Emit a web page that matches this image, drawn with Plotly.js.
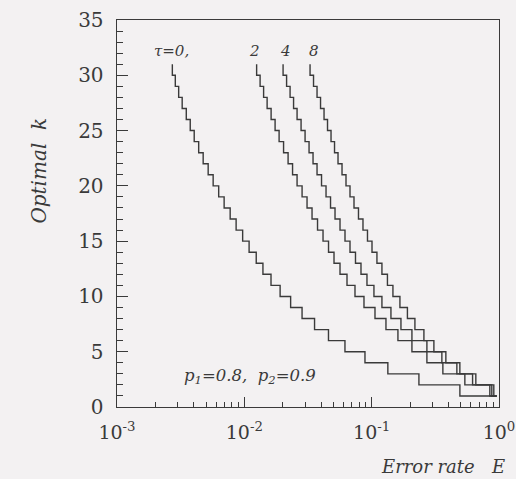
<!DOCTYPE html>
<html>
<head>
<meta charset="utf-8">
<script src="https://cdn.plot.ly/plotly-3.0.1.min.js"></script>
<style>
  html, body { margin: 0; padding: 0; background: #f3f1f2; }
  #chart { width: 516px; height: 479px; }
</style>
</head>
<body>
<div id="chart"></div>
<script>
// Optimal k levels (top start at 31, then 30 ... 1)
const kStart = 31;
const kSteps = [30,29,28,27,26,25,24,23,22,21,20,19,18,17,16,15,14,13,12,11,10,9,8,7,6,5,4,3,2,1];

// Error rate E at which each k level begins (k = 30 ... 1)
const eTau0 = [0.00272,0.00287,0.00305,0.00325,0.00350,0.00376,0.00404,0.00438,0.00475,0.00520,
               0.00569,0.00629,0.00694,0.00774,0.00862,0.00970,0.0109,0.0124,0.0140,0.0162,
               0.0191,0.0231,0.0284,0.0356,0.0458,0.0617,0.0886,0.134,0.235,0.493];
const eTau2 = [0.01249,0.0133,0.01417,0.0151,0.01623,0.01744,0.01875,0.02033,0.02206,0.02392,
               0.02595,0.02841,0.03108,0.03402,0.03757,0.0415,0.04584,0.05061,0.05641,0.06402,
               0.07396,0.08703,0.1062,0.1295,0.1608,0.2071,0.2715,0.3624,0.5393,0.847];
const eTau4 = [0.02015,0.02147,0.02287,0.02436,0.02595,0.0279,0.02999,0.03223,0.03464,0.03724,
               0.04039,0.04381,0.04753,0.05155,0.05641,0.06174,0.06758,0.07464,0.08244,0.09186,
               0.1042,0.1204,0.1417,0.1698,0.2071,0.2715,0.3559,0.4667,0.6202,0.8781];
const eTau8 = [0.03282,0.03495,0.03724,0.03967,0.04226,0.04501,0.04796,0.05109,0.05442,0.0585,
               0.06287,0.06758,0.07265,0.07878,0.08546,0.09271,0.1006,0.110,0.1204,0.133,
               0.1469,0.1667,0.1909,0.2186,0.2572,0.3081,0.3825,0.4927,0.6577,0.9104];
const eEnd = 0.96;

const curveLabels = ['τ=0,', '2', '4', '8'];
const curves = [eTau0, eTau2, eTau4, eTau8];
const labelShift = [-1, -2, 2, 4];

const xTickVals = [0.001, 0.01, 0.1, 1];
const xTickText = ['10<sup>-3</sup>', '10<sup>-2</sup>', '10<sup>-1</sup>', '10<sup>0</sup>'];
const yTickVals = [0, 5, 10, 15, 20, 25, 30, 35];

const lineColor = '#3a3a3a';
const textColor = '#3a3a3a';
const serif = 'DejaVu Serif, Liberation Serif, serif';

const traces = curves.map(e => ({
  type: 'scatter',
  mode: 'lines',
  x: [e[0]].concat(e, [eEnd]),
  y: [kStart].concat(kSteps, [1]),
  line: { shape: 'hv', color: lineColor, width: 1.4 },
  hoverinfo: 'skip',
  showlegend: false
}));

const annotations = curves.map((e, i) => ({
  x: Math.log10(e[0]), y: 32.2, xref: 'x', yref: 'y',
  text: curveLabels[i], showarrow: false, xshift: labelShift[i],
  font: { family: serif, size: 15, color: textColor, style: 'italic' }
}));

annotations.push({
  x: 0.348, y: 0.047, xref: 'paper', yref: 'paper',
  text: 'p<sub>1</sub>=0.8,  p<sub>2</sub>=0.9', showarrow: false,
  font: { family: serif, size: 16.5, color: textColor, style: 'italic' }
});
annotations.push({
  x: 1.0, y: -0.155, xref: 'paper', yref: 'paper', xanchor: 'right', yanchor: 'middle',
  text: 'Error rate   E', showarrow: false, xshift: 8,
  font: { family: serif, size: 18, color: textColor, style: 'italic' }
});
annotations.push({
  x: -0.205, y: 0.61, xref: 'paper', yref: 'paper', xanchor: 'center', yanchor: 'middle',
  text: 'Optimal  k', showarrow: false, textangle: -90,
  font: { family: serif, size: 20, color: textColor, style: 'italic' }
});

const layout = {
  width: 516, height: 479,
  margin: { l: 117, r: 17, t: 20, b: 72 },
  paper_bgcolor: '#f3f1f2',
  plot_bgcolor: '#f3f1f2',
  xaxis: {
    type: 'log', range: [-3, 0],
    tickvals: xTickVals, ticktext: xTickText,
    ticks: 'inside', ticklen: 10, tickwidth: 1.2, tickcolor: lineColor,
    minor: { ticks: 'inside', ticklen: 5, tickwidth: 1, tickcolor: lineColor, dtick: 'D1', showgrid: false },
    showline: true, linecolor: lineColor, linewidth: 1.4, mirror: true,
    showgrid: false, zeroline: false,
    ticklabelstandoff: 8,
    tickfont: { family: serif, size: 19, color: textColor }
  },
  yaxis: {
    range: [0, 35],
    tickvals: yTickVals,
    ticks: 'inside', ticklen: 11, tickwidth: 1.2, tickcolor: lineColor,
    minor: { ticks: 'inside', ticklen: 6, tickwidth: 1, tickcolor: lineColor, dtick: 1, showgrid: false },
    showline: true, linecolor: lineColor, linewidth: 1.4, mirror: true,
    showgrid: false, zeroline: false,
    ticklabelstandoff: 8,
    tickfont: { family: serif, size: 20, color: textColor }
  },
  annotations: annotations
};

Plotly.newPlot('chart', traces, layout, { displayModeBar: false, staticPlot: true });
</script>
</body>
</html>
